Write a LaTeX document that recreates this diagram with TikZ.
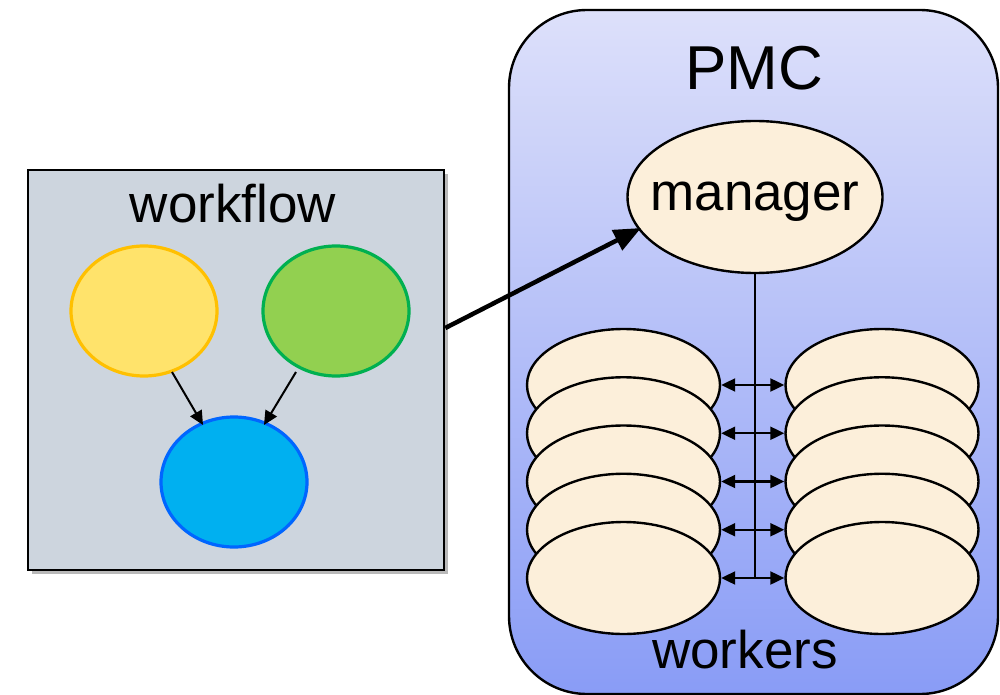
\documentclass[tikz,border=0pt]{standalone}
\usepackage{fontspec}
\setmainfont{Liberation Sans}
\usetikzlibrary{arrows.meta,shapes.geometric,shadows}
\definecolor{wfbg}{RGB}{205,213,222}
\definecolor{yfill}{RGB}{255,227,107}
\definecolor{yline}{RGB}{255,192,0}
\definecolor{gfill}{RGB}{146,208,80}
\definecolor{gline}{RGB}{0,176,80}
\definecolor{bfill}{RGB}{0,176,240}
\definecolor{bline}{RGB}{0,102,255}
\definecolor{beige}{RGB}{252,239,218}
\definecolor{pmctop}{RGB}{221,224,250}
\definecolor{pmcbot}{RGB}{137,156,246}
\tikzset{
  task/.style={ellipse,minimum width=146pt,minimum height=130pt,inner sep=0pt,line width=3.2pt},
  worker/.style={ellipse,draw=black,fill=beige,line width=2.4pt,minimum width=193pt,minimum height=112pt,inner sep=0pt},
  label/.style={font=\fontsize{53}{60}\selectfont,inner sep=0pt},
  dep/.style={line width=2pt,-{Triangle[length=14pt,width=13pt]}},
  comm/.style={line width=2.2pt,{Triangle[length=14pt,width=13pt]}-{Triangle[length=14pt,width=13pt]}},
}
\begin{document}
\begin{tikzpicture}[x=1pt,y=-1pt]
\useasboundingbox (0,0) rectangle (1000,695);
% workflow box
\node[draw=black,line width=2.6pt,fill=wfbg,minimum width=416pt,minimum height=400pt,inner sep=0pt,
  drop shadow={shadow xshift=4pt,shadow yshift=-4pt,opacity=0.55}] (wf) at (236,370) {};
\node[label,anchor=base] (wft) at (233,222) {workflow};
\node[task,draw=yline,fill=yfill] (y) at (144,311) {};
\node[task,draw=gline,fill=gfill] (g) at (336,311) {};
\node[task,draw=bline,fill=bfill] (b) at (234,482) {};
\draw[dep] (172,372) coordinate (ys) -- (203,425) coordinate (bt1);
\draw[dep] (296,372) coordinate (gs) -- (264,425) coordinate (bt2);
% PMC box
\node[draw=black,line width=2.4pt,rounded corners=78pt,top color=pmctop,bottom color=pmcbot,
  minimum width=489pt,minimum height=684pt,inner sep=0pt] (pmc) at (753.5,352) {};
\node[font=\fontsize{62}{70}\selectfont,inner sep=0pt,anchor=base] (pmct) at (754,90) {PMC};
\node[ellipse,draw=black,fill=beige,line width=2.4pt,minimum width=255pt,minimum height=152pt,inner sep=0pt] (mgr) at (755,197) {};
\node[label,anchor=base] (mgrt) at (755,210) {manager};
% workers
\foreach \i in {0,...,4}{
  \node[worker] (l\i) at (623.5,{385+48.25*\i}) {};
  \node[worker] (r\i) at (882,{385+48.25*\i}) {};
}
\coordinate (bus) at (753,578);
\draw[line width=2.2pt] (mgr.south) -- (mgr.south |- bus);
\foreach \i in {0,...,4}{
  \draw[comm] (l\i.east) -- (r\i.west);
}
\node[label,anchor=base] (wk) at (745,668) {workers};
% main arrow
\draw[line width=4.5pt,-{Triangle[length=27pt,width=22pt]}] (wf.east |- 0,328) -- (641,228);
\end{tikzpicture}
\end{document}
